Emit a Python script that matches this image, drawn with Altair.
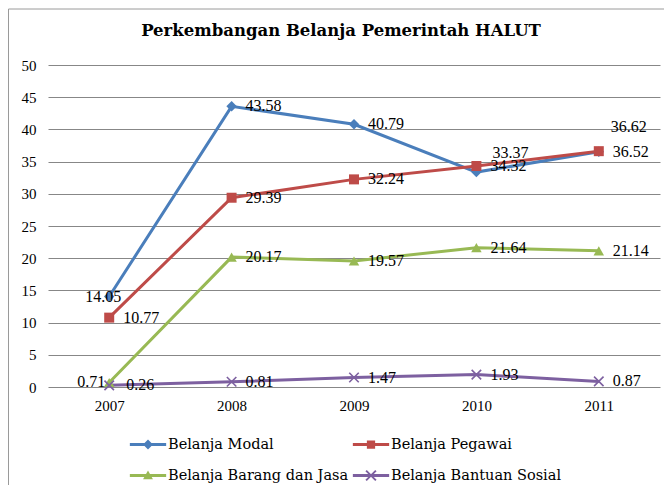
import altair as alt
import pandas as pd

# ---- data ----
years = ["2007", "2008", "2009", "2010", "2011"]
series = ["Belanja Modal", "Belanja Pegawai", "Belanja Barang dan Jasa", "Belanja Bantuan Sosial"]
modal = [14.05, 43.58, 40.79, 33.37, 36.52]
pegawai = [10.77, 29.39, 32.24, 34.32, 36.62]
barang = [0.71, 20.17, 19.57, 21.64, 21.14]
sosial = [0.26, 0.81, 1.47, 1.93, 0.87]
y_ticks = [0, 5, 10, 15, 20, 25, 30, 35, 40, 45, 50]

# ---- styles ----
colors = ["#4A7EBB", "#BE4B48", "#98B954", "#7D60A0"]
marker_shapes = ["diamond", "square", "triangle-up", "M-1,-1L1,1M-1,1L1,-1"]
marker_filled = [True, True, True, False]
marker_sizes = [110, 100, 110, 90]
legend_paths = [
    "M-1.1,-0.09V0.09H1.1V-0.09Z M0,-0.3L-0.3,0L0,0.3L0.3,0Z",
    "M-1.1,-0.09V0.09H1.1V-0.09Z M-0.25,-0.25V0.25H0.25V-0.25Z",
    "M-1.1,-0.09V0.09H1.1V-0.09Z M0,-0.3L-0.3,0.22L0.3,0.22Z",
    "M-1.1,-0.09V0.09H1.1V-0.09Z M0.255,0.339L0.339,0.255L-0.255,-0.339L-0.339,-0.255Z M0.339,-0.255L0.255,-0.339L-0.339,0.255L-0.255,0.339Z",
]

rows = []
for s, vals in zip(series, [modal, pegawai, barang, sosial]):
    for yr, v in zip(years, vals):
        rows.append({"year": yr, "series": s, "value": v})
df = pd.DataFrame(rows)

LABEL_FONT = "Liberation Serif"

x_enc = alt.X(
    "year:O",
    scale=alt.Scale(type="point", padding=0.5),
    axis=alt.Axis(title=None, labelAngle=0, domain=False, ticks=False, tickSize=0,
                  labelPadding=11, labelFont=LABEL_FONT, labelFontSize=15,
                  labelColor="#000000", grid=False),
)
y_enc = alt.Y(
    "value:Q",
    scale=alt.Scale(domain=[0, 50], nice=False),
    axis=alt.Axis(title=None, values=y_ticks, domain=False, ticks=False, tickSize=0,
                  labelPadding=12, labelFont=LABEL_FONT, labelFontSize=15,
                  labelColor="#000000", grid=True, gridColor="#878787", gridWidth=1),
)

leg = alt.Legend(title=None, orient="none", legendX=83.5, legendY=363, columns=2,
                 direction="horizontal", labelLimit=400,
                 symbolSize=1089, labelFont="DejaVu Serif", labelFontSize=14.5,
                 labelColor="#000000", labelOffset=3.5, columnPadding=4, rowPadding=8,
                 padding=0, symbolStrokeWidth=0)

color_scale = alt.Scale(domain=series, range=colors)
color_enc = alt.Color("series:N", scale=color_scale, legend=leg)

base = alt.Chart(df)

frame = alt.Chart(alt.Data(values=[{}])).mark_rect(
    fillOpacity=0, stroke="#9a9a9a", strokeWidth=1
).encode(x=alt.value(-39.5), x2=alt.value(1000), y=alt.value(-56), y2=alt.value(1000))

lines = base.mark_line(strokeWidth=3).encode(x=x_enc, y=y_enc, color=color_enc)

point_layers = []
for s, shp, fl, sz in zip(series, marker_shapes, marker_filled, marker_sizes):
    point_layers.append(
        base.transform_filter(alt.datum.series == s)
        .mark_point(shape=shp, filled=fl, size=sz, opacity=1, strokeWidth=1.6)
        .encode(x=x_enc, y=y_enc, color=color_enc)
    )

legend_layer = base.transform_filter("false").mark_point(filled=True, opacity=1).encode(
    x=x_enc, y=y_enc, color=color_enc,
    shape=alt.Shape("series:N", scale=alt.Scale(domain=series, range=legend_paths), legend=leg),
)

is_m07 = "(datum.series == 'Belanja Modal' && datum.year == '2007')"
is_m10 = "(datum.series == 'Belanja Modal' && datum.year == '2010')"
is_p11 = "(datum.series == 'Belanja Pegawai' && datum.year == '2011')"
is_b07 = "(datum.series == 'Belanja Barang dan Jasa' && datum.year == '2007')"
is_s07 = "(datum.series == 'Belanja Bantuan Sosial' && datum.year == '2007')"
special = " || ".join([is_m07, is_m10, is_p11, is_b07, is_s07])

def label_layer(expr, **kw):
    params = dict(font=LABEL_FONT, fontSize=16, color="#000000", baseline="middle", align="left")
    params.update(kw)
    return base.transform_filter(expr).mark_text(**params).encode(
        x=x_enc, y=y_enc, text=alt.Text("value:Q", format=".2f"))

labels = [
    label_layer("!(" + special + ")", dx=14),
    label_layer(is_m07, align="center", dx=-6),
    label_layer(is_m10, dx=16, dy=-19),
    label_layer(is_p11, dx=12, dy=-24),
    label_layer(is_b07, align="right", dx=-4),
    label_layer(is_s07, dx=17),
]

chart = alt.layer(frame, lines, *point_layers, legend_layer, *labels).properties(
    width=612,
    height=322,
    autosize=alt.AutoSizeParams(type="none"),
    padding={"left": 40, "top": 57, "right": 4, "bottom": 98},
    title=alt.Title("Perkembangan Belanja Pemerintah HALUT", font="DejaVu Serif",
                    fontSize=16.5, fontWeight="bold", color="#000000", anchor="middle",
                    frame="group", dx=-13, baseline="alphabetic", offset=-43.5),
).configure_view(stroke=None)

chart.save("out.html", embed_options={"renderer": "svg", "actions": False})
